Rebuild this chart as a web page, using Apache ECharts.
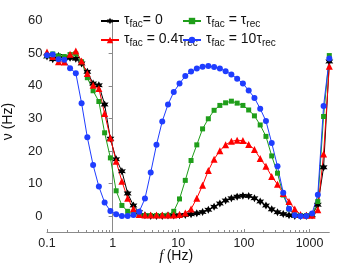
<!DOCTYPE html>
<html><head><meta charset="utf-8">
<script src="https://cdn.jsdelivr.net/npm/echarts@6/dist/echarts.min.js"></script>
<style>html,body{margin:0;padding:0;background:#fff}#c{width:364px;height:266px}</style>
</head><body><div id="c"></div>
<script>
// stimulation frequency f (Hz)
const freqs = [0.1, 0.1224, 0.1498, 0.1834, 0.2245, 0.2748, 0.3363, 0.4117, 0.5039, 0.6168,
  0.7549, 0.9241, 1.131, 1.384, 1.694, 2.074, 2.539, 3.107, 3.803, 4.655,
  5.698, 6.975, 8.537, 10.45, 12.79, 15.66, 19.16, 23.46, 28.71, 35.14,
  43.02, 52.65, 64.45, 78.89, 96.56, 118.2, 144.7, 177.1, 216.8, 265.3,
  324.8, 397.5, 486.6, 595.6, 729.0, 892.3, 1092, 1337, 1636, 2000];

// firing rate nu (Hz)
const tauFac0 = [49.0, 48.2, 49.2, 48.5, 48.6, 48.3, 46.9, 44.3, 40.7, 40.2,
  34.3, 23.8, 17.5, 13.8, 7.0, 3.3, 1.2, 0.3, 0.1, 0.1,
  0.1, 0.2, 0.2, 0.3, 0.4, 0.6, 0.9, 1.3, 2.0, 2.9,
  3.9, 4.8, 5.5, 6.0, 6.3, 6.2, 5.5, 4.5, 3.3, 2.1,
  1.2, 0.7, 0.3, 0.1, 0.1, 0.1, 0.3, 3.5, 15.0, 47.5];
const tauFac04 = [50.4, 49.0, 47.4, 47.3, 49.7, 50.7, 47.6, 43.8, 40.2, 39.2,
  31.5, 24.0, 16.9, 10.7, 5.5, 2.3, 0.5, 0.4, 0.4, 0.4,
  0.4, 0.4, 0.4, 0.5, 1.0, 2.2, 5.5, 9.5, 14.0, 17.5,
  20.1, 21.9, 23.0, 23.3, 23.2, 22.0, 20.5, 17.7, 15.3, 12.2,
  9.8, 7.0, 4.5, 2.2, 0.5, 0.3, 0.3, 2.0, 19.1, 46.0];
const tauFac1 = [49.3, 49.8, 49.2, 49.0, 49.6, 49.8, 47.4, 42.5, 38.5, 35.2,
  25.6, 17.9, 7.8, 3.3, 1.5, 0.5, 0.3, 0.2, 0.2, 0.2,
  0.2, 0.3, 1.5, 5.3, 11.0, 17.1, 21.9, 26.8, 29.9, 32.5,
  34.0, 34.8, 35.3, 34.7, 34.0, 32.6, 30.8, 28.0, 24.5, 18.5,
  13.2, 6.5, 2.2, 0.4, 0.2, 0.2, 0.5, 4.5, 30.6, 49.3];
const tauFac10 = [49.4, 49.6, 48.2, 48.0, 45.4, 43.9, 34.7, 24.2, 15.7, 9.1,
  4.2, 1.6, 0.6, 0.1, 0.1, 0.4, 1.4, 5.4, 13.4, 21.9,
  29.1, 34.3, 38.1, 40.7, 43.0, 44.4, 45.3, 45.9, 46.1, 45.8,
  45.3, 44.5, 43.5, 42.2, 40.7, 38.6, 36.3, 33.0, 29.2, 22.5,
  15.3, 7.2, 2.3, 0.3, 0.0, 0.1, 0.8, 6.6, 33.8, 48.4];

// axes
const xMin = 0.1, xMax = 2000;
const xTickValues = [0.1, 1, 10, 100, 1000];
const xTickLabels = ['0.1', '1', '10', '100', '1000'];
const xMinorValues = [0.2,0.3,0.4,0.5,0.6,0.7,0.8,0.9, 2,3,4,5,6,7,8,9, 20,30,40,50,60,70,80,90,
  200,300,400,500,600,700,800,900];
const yMin = -5, yMax = 60;
const yTickValues = [0, 10, 20, 30, 40, 50, 60];

const lg = Math.log10;
function pts(arr) { return freqs.map((f, i) => [lg(f), arr[i]]); }

const star = 'path://M0 -10 L2.6 -4.5 L8.66 -5 L5.2 0 L8.66 5 L2.6 4.5 L0 10 L-2.6 4.5 L-8.66 5 L-5.2 0 L-8.66 -5 L-2.6 -4.5 Z';
const FONT = 'Liberation Sans';
const AX = '#8a8a8a';

const rich = {
  t: { fontSize: 14, fontFamily: FONT, color: '#111', lineHeight: 16, verticalAlign: 'top' },
  s: { fontSize: 10, fontFamily: FONT, color: '#111', lineHeight: 12, padding: [8, 0, 0, 0], verticalAlign: 'bottom' }
};
const legendText = {
  'a': '{t|τ}{s|fac}{t|= 0}',
  'b': '{t|τ}{s|fac}{t| = 0.4τ}{s|rec}',
  'c': '{t|τ}{s|fac}{t| = τ}{s|rec}',
  'd': '{t|τ}{s|fac}{t| = 10τ}{s|rec}'
};

function ser(name, arr, color, symbol, size) {
  return {
    type: 'line', name: name, data: pts(arr), xAxisIndex: 0,
    symbol: symbol, symbolSize: size, showSymbol: true,
    lineStyle: { color: color, width: 1 }, itemStyle: { color: color },
    emphasis: { disabled: true }, animation: false
  };
}

const chart = echarts.init(document.getElementById('c'), null, { renderer: 'canvas' });
const legBase = {
  orient: 'vertical', itemWidth: 18, itemHeight: 8, itemGap: 1, selectedMode: false,
  formatter: n => legendText[n], textStyle: { rich: rich }, padding: 0
};
chart.setOption({
  backgroundColor: '#fff',
  animation: false,
  grid: { left: 47, right: 34.7, top: 20.7, bottom: 33.5, containLabel: false, outerBoundsMode: 'none' },
  legend: [
    Object.assign({ data: ['a', 'b'], left: 100, top: 11 }, legBase),
    Object.assign({ data: ['c', 'd'], left: 182, top: 11 }, legBase)
  ],
  xAxis: [
    {
      type: 'value', min: lg(xMin), max: lg(xMax), position: 'bottom',
      axisLine: { show: true, onZero: false, lineStyle: { color: AX, width: 1 } },
      axisTick: { show: true, inside: true, length: 3.5, customValues: xTickValues.map(lg), lineStyle: { color: AX } },
      axisLabel: {
        show: true, customValues: xTickValues.map(lg), margin: 5,
        fontSize: 12.5, fontFamily: FONT, color: '#222',
        formatter: v => { const i = xTickValues.findIndex(t => Math.abs(lg(t) - v) < 1e-6); return i >= 0 ? xTickLabels[i] : ''; }
      },
      splitLine: { show: false },
      name: '{i|f} {n|(Hz)}', nameLocation: 'middle', nameGap: 16, nameMoveOverlap: false,
      nameTextStyle: { padding: [0, 24, 0, 0], rich: {
        i: { fontSize: 15, fontFamily: 'Liberation Serif', fontStyle: 'italic', color: '#111' },
        n: { fontSize: 14, fontFamily: FONT, color: '#111' } } }
    },
    {
      type: 'value', min: lg(xMin), max: lg(xMax), position: 'bottom', gridIndex: 0,
      axisLine: { show: false, onZero: false },
      axisTick: { show: true, inside: true, length: 2.5, customValues: xMinorValues.map(lg), lineStyle: { color: AX } },
      axisLabel: { show: false }, splitLine: { show: false }
    }
  ],
  yAxis: {
    type: 'value', min: yMin, max: yMax,
    axisLine: { show: true, lineStyle: { color: AX, width: 1 } },
    axisTick: { show: true, inside: false, length: 4, customValues: yTickValues, lineStyle: { color: AX } },
    axisLabel: { customValues: yTickValues, margin: 4.5, fontSize: 13, fontFamily: FONT, color: '#222' },
    splitLine: { show: false },
    name: 'ν (Hz)', nameLocation: 'middle', nameGap: 32, nameRotate: 90, nameMoveOverlap: false,
    nameTextStyle: { fontSize: 14, fontFamily: FONT, color: '#111', padding: [0, 0, 0, 10] }
  },
  series: [
    ser('a', tauFac0, '#000000', star, 8),
    ser('c', tauFac1, '#1f9e1a', 'rect', 5),
    ser('b', tauFac04, '#ff0000', 'triangle', 7),
    ser('d', tauFac10, '#1f3dff', 'circle', 6)
  ]
});
</script></body></html>
